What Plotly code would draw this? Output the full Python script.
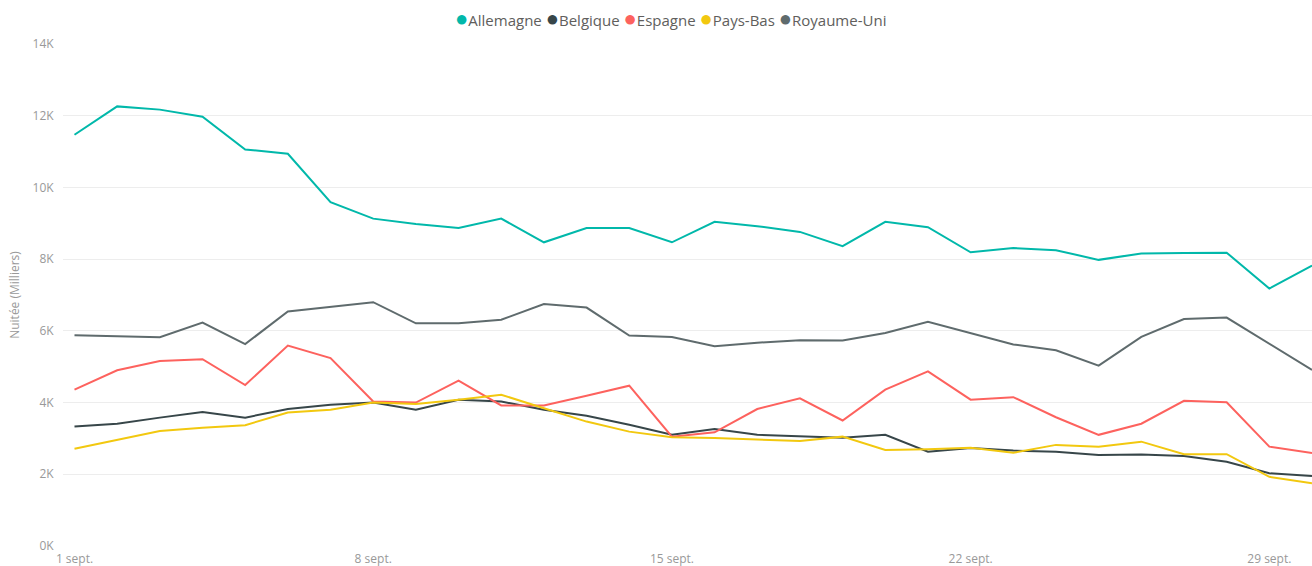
import plotly.graph_objects as go
import pandas as pd

dates = pd.date_range("2019-09-01", "2019-09-30", freq="D")

series_names = ["Allemagne", "Belgique", "Espagne", "Pays-Bas", "Royaume-Uni"]
colors = ["#01B8AA", "#374649", "#FD625E", "#F2C80F", "#5F6B6D"]

allemagne = [11.47, 12.26, 12.17, 11.97, 11.06, 10.94, 9.59, 9.13, 8.98, 8.87,
             9.13, 8.47, 8.87, 8.87, 8.47, 9.04, 8.92, 8.76, 8.36, 9.04,
             8.89, 8.19, 8.31, 8.25, 7.98, 8.16, 8.17, 8.18, 7.18, 7.82]
belgique = [3.33, 3.41, 3.58, 3.74, 3.58, 3.82, 3.94, 4.00, 3.80, 4.08,
            4.03, 3.80, 3.63, 3.38, 3.10, 3.26, 3.10, 3.05, 3.02, 3.10,
            2.63, 2.73, 2.66, 2.63, 2.54, 2.55, 2.51, 2.35, 2.03, 1.95]
espagne = [4.36, 4.90, 5.16, 5.21, 4.49, 5.59, 5.24, 4.03, 4.00, 4.61,
           3.92, 3.92, 4.19, 4.47, 3.05, 3.17, 3.82, 4.12, 3.50, 4.36,
           4.87, 4.08, 4.15, 3.59, 3.10, 3.41, 4.05, 4.01, 2.77, 2.59]
pays_bas = [2.71, 2.96, 3.21, 3.30, 3.37, 3.72, 3.80, 4.00, 3.96, 4.08,
            4.22, 3.84, 3.47, 3.19, 3.03, 3.01, 2.96, 2.93, 3.05, 2.68,
            2.70, 2.74, 2.60, 2.82, 2.77, 2.91, 2.56, 2.56, 1.93, 1.75]
royaume_uni = [5.88, 5.84, 5.82, 6.23, 5.63, 6.54, 6.66, 6.80, 6.21, 6.21,
               6.31, 6.75, 6.65, 5.87, 5.83, 5.57, 5.67, 5.74, 5.73, 5.94,
               6.25, 5.93, 5.62, 5.46, 5.03, 5.83, 6.33, 6.37, 5.65, 4.91]

x_tick_vals = ["2019-09-01", "2019-09-08", "2019-09-15", "2019-09-22", "2019-09-29"]
x_tick_text = ["1 sept.", "8 sept.", "15 sept.", "22 sept.", "29 sept."]
y_tick_vals = [0, 2, 4, 6, 8, 10, 12, 14]
y_tick_text = ["0K", "2K", "4K", "6K", "8K", "10K", "12K", "14K"]

all_series = [allemagne, belgique, espagne, pays_bas, royaume_uni]

FONT = "Segoe UI, Open Sans, sans-serif"

fig = go.Figure()
for name, col, vals in zip(series_names, colors, all_series):
    fig.add_trace(go.Scatter(x=dates, y=vals, mode="lines", name=name,
                             line=dict(color=col, width=2), showlegend=False))

legend_html = "&nbsp;".join(
    f"<span style='color:{c};font-size:22px'>●</span><span style='color:#605E5C'>{n}</span>"
    for n, c in zip(series_names, colors))
fig.add_annotation(text=legend_html, xref="paper", yref="paper", x=0.486, y=1.053,
                   xanchor="center", yanchor="middle", showarrow=False,
                   font=dict(family=FONT, size=15, color="#605E5C"))

fig.update_layout(
    width=1312, height=566,
    margin=dict(l=63, r=0, t=44, b=20),
    paper_bgcolor="white", plot_bgcolor="white",
    font=dict(family=FONT, size=12, color="#999999"),
)
fig.update_xaxes(
    type="date",
    range=["2019-08-31 17:32", "2019-09-30 00:00"],
    tickvals=x_tick_vals, ticktext=x_tick_text,
    showgrid=False, zeroline=False, showline=False,
    ticks="outside", ticklen=2, tickcolor="rgba(0,0,0,0)",
    tickfont=dict(family=FONT, size=12, color="#999999"),
)
fig.update_yaxes(
    range=[0, 14],
    tickvals=y_tick_vals, ticktext=y_tick_text,
    showgrid=True, gridcolor="#EDEDED", gridwidth=1,
    zeroline=False, showline=False,
    ticks="outside", ticklen=6, tickcolor="rgba(0,0,0,0)",
    tickfont=dict(family=FONT, size=12, color="#999999"),
    title=dict(text="Nuitée (Milliers)", font=dict(family=FONT, size=12, color="#999999"), standoff=10),
)

fig.write_html(
    "out.html",
    config={"displayModeBar": False},
    post_script="document.body.style.margin='0';document.body.style.overflow='hidden';",
)
